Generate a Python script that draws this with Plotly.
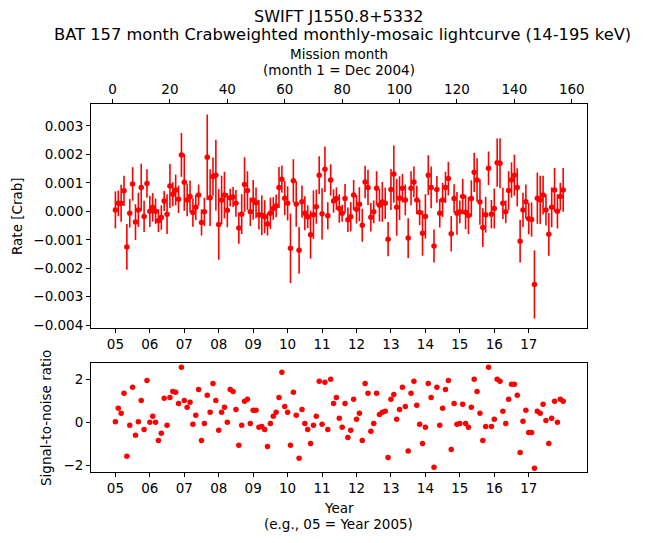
import plotly.graph_objects as go

months = list(range(1, 158))

rate = [
    0.00005, 0.00028, 0.00028, 0.00072, -0.00125, -0.00007, 0.00096, -0.00038, 0.00005, 0.00084,
    -0.00018, 0.00098, 0.0, 0.00014, 0.0, -0.00033, -0.00022, 0.00036, -0.0001, 0.00089,
    0.0006, 0.00075, 0.00042, 0.00198, 0.00102, 0.0004, 0.00052, -0.00004, 0.00014, 0.00057,
    -0.00039, -0.00002, 0.0019, 0.00048, 0.00122, 0.00127, -0.00046, 0.0004, 0.00057, 0.00004,
    0.00048, 0.0005, 0.00028, -0.00059, -0.0001, 0.00094, 0.00073, -0.00002, 0.0004, 0.0003,
    -0.00012, -0.00014, -0.00019, -0.00045, -0.00007, 0.0001, 0.00019, 0.00084, 0.00113, 0.00046,
    0.00028, -0.0013, 0.00107, 0.00026, -0.00137, 0.00034, -0.00007, -0.00019, -0.00082, -0.00012,
    0.00016, 0.00127, -0.00009, 0.00148, -0.00016, 0.0011, 0.00036, 0.00045, 0.0001, -0.00007,
    0.00045, -0.0003, -0.00019, 0.00057, 0.00007, 0.00025, -0.00049, 0.00103, 0.00084, -0.00021,
    -0.00002, 0.00081, 0.00021, 0.00033, 0.00028, -0.00098, 0.00077, 0.00131, 0.00014, 0.00046,
    0.00081, 0.0004, -0.00094, 0.00081, 0.00103, 0.0004, -0.00004, -0.00077, -0.00018, 0.00127,
    0.00084, -0.00122, 0.00077, -0.00007, 0.0004, 0.00084, 0.00115, -0.00079, 0.00045, -0.00007,
    -0.00002, 0.00052, -0.00003, -0.00015, 0.00045, 0.00137, 0.0011, 0.00033, -0.00057, -0.00012,
    0.00151, -0.0001, 0.0001, 0.00171, 0.00169, 0.00028, -0.00002, 0.00073, 0.0011, 0.00127,
    0.00084, -0.00105, 0.00005, 0.00034, -0.00026, -0.00029, -0.00257, 0.00046, 0.0004, 0.00057,
    0.00005, -0.00081, 0.00014, 0.00075, 0.0, 0.00052, 0.00075,
]

rate_err = [
    0.00065, 0.00045, 0.00065, 0.00053, 0.0008, 0.0005, 0.00059, 0.00063, 0.0006, 0.00083,
    0.00055, 0.0005, 0.00055, 0.0005, 0.00045, 0.0004, 0.00043, 0.00035, 0.0007, 0.00077,
    0.00042, 0.00054, 0.00048, 0.00077, 0.001, 0.00057, 0.00056, 0.0005, 0.00045, 0.00037,
    0.00046, 0.0005, 0.0015, 0.001, 0.00067, 0.00124, 0.00124, 0.00085, 0.00082, 0.0006,
    0.00031, 0.00035, 0.00047, 0.00055, 0.0007, 0.00096, 0.00068, 0.0005, 0.0007, 0.00054,
    0.00052, 0.0007, 0.00058, 0.0004, 0.00055, 0.0004, 0.0004, 0.00072, 0.00048, 0.0006,
    0.0006, 0.00122, 0.00076, 0.0008, 0.00082, 0.00057, 0.0006, 0.0004, 0.00084, 0.00085,
    0.0006, 0.00066, 0.0009, 0.0008, 0.00048, 0.00055, 0.00041, 0.00039, 0.0005, 0.0003,
    0.00051, 0.00043, 0.00051, 0.00053, 0.0005, 0.0006, 0.00058, 0.00057, 0.00062, 0.0005,
    0.0004, 0.0006, 0.00057, 0.0007, 0.00055, 0.0006, 0.00072, 0.001, 0.001, 0.00077,
    0.0005, 0.00054, 0.0007, 0.0006, 0.00054, 0.0005, 0.00045, 0.00079, 0.00078, 0.0007,
    0.00073, 0.00058, 0.00047, 0.0005, 0.0006, 0.00055, 0.00059, 0.00062, 0.0005, 0.00075,
    0.0004, 0.00062, 0.0006, 0.00065, 0.00064, 0.00069, 0.00076, 0.0008, 0.00068, 0.00063,
    0.00059, 0.0005, 0.0007, 0.00085, 0.00088, 0.00055, 0.0004, 0.00068, 0.00062, 0.00072,
    0.00067, 0.00075, 0.0006, 0.0006, 0.00055, 0.0006, 0.0012, 0.0009, 0.00085, 0.00068,
    0.00055, 0.00075, 0.0007, 0.00077, 0.0006, 0.00048, 0.00077,
]

snr = [
    0.03, 0.65, 0.42, 1.35, -1.58, -0.14, 1.63, -0.60, 0.03, 1.02,
    -0.33, 1.95, 0.0, 0.28, 0.0, -0.84, -0.51, 1.12, -0.14, 1.16,
    1.44, 1.40, 0.88, 2.56, 1.02, 0.70, 0.93, -0.09, 0.33, 1.53,
    -0.84, -0.05, 1.26, 0.47, 1.81, 1.02, -0.37, 0.47, 0.70, 0.0,
    1.53, 1.44, 0.60, -1.07, -0.14, 0.98, 1.07, -0.05, 0.56, 0.56,
    -0.23, -0.19, -0.33, -1.12, -0.05, 0.28, 0.47, 1.16, 2.33, 0.74,
    0.47, -1.07, 1.40, 0.33, -1.67, 0.60, -0.05, -0.33, -0.98, -0.14,
    0.28, 1.91, -0.09, 1.86, -0.33, 2.0, 0.88, 1.16, 0.19, -0.23,
    0.88, -0.70, -0.37, 1.07, 0.14, 0.42, -0.84, 1.81, 1.35, -0.42,
    -0.05, 1.35, 0.37, 0.47, 0.51, -1.63, 1.07, 1.30, 0.14, 0.60,
    1.63, 0.74, -1.33, 1.35, 1.91, 0.79, -0.09, -0.98, -0.23, 1.81,
    1.16, -2.09, 1.63, -0.14, 0.65, 1.53, 1.95, -1.26, 0.88, -0.09,
    -0.05, 0.84, -0.05, -0.23, 0.70, 2.0, 1.44, 0.42, -0.84, -0.19,
    2.56, -0.19, 0.14, 2.0, 1.91, 0.51, -0.05, 1.07, 1.77, 1.77,
    1.26, -1.40, 0.05, 0.56, -0.47, -0.47, -2.14, 0.51, 0.42, 0.84,
    0.09, -0.98, 0.19, 0.98, 0.0, 1.07, 0.98,
]

year_ticks = [1, 13, 25, 37, 49, 61, 73, 85, 97, 109, 121, 133, 145]
year_labels = ["05", "06", "07", "08", "09", "10", "11", "12", "13", "14", "15", "16", "17"]
month_ticks = [0, 20, 40, 60, 80, 100, 120, 140, 160]
rate_ticks = [-0.004, -0.003, -0.002, -0.001, 0.0, 0.001, 0.002, 0.003]
snr_ticks = [-2, 0, 2]

FONT = "DejaVu Sans"
W, H = 646, 543
X_RANGE = [-7.5, 165.3]

fig = go.Figure()
fig.add_trace(go.Scatter(
    x=months, y=rate, mode="markers", xaxis="x", yaxis="y",
    marker=dict(color="red", size=5.5, line=dict(width=0)),
    error_y=dict(type="data", array=rate_err, visible=True, color="red", thickness=1.6, width=0),
    showlegend=False, hoverinfo="skip",
))
fig.add_trace(go.Scatter(
    x=[X_RANGE[0]], y=[0], mode="markers", xaxis="x3", yaxis="y",
    marker=dict(opacity=0), showlegend=False, hoverinfo="skip",
))
fig.add_trace(go.Scatter(
    x=months, y=snr, mode="markers", xaxis="x2", yaxis="y2",
    marker=dict(color="red", size=5.5, line=dict(width=0)),
    showlegend=False, hoverinfo="skip",
))

ax_common = dict(
    showline=True, linecolor="black", linewidth=1, mirror=True,
    ticks="outside", ticklen=4, tickwidth=1, tickcolor="black",
    showgrid=False, zeroline=False, automargin=False,
    tickfont=dict(family=FONT, size=13.5, color="black"),
)

xdom = [91 / W, 587 / W]
fig.update_layout(
    width=W, height=H,
    margin=dict(l=0, r=0, t=0, b=0, pad=0, autoexpand=False),
    paper_bgcolor="white", plot_bgcolor="white",
    xaxis=dict(domain=xdom, anchor="y", range=X_RANGE, tickmode="array",
               tickvals=year_ticks, ticktext=year_labels, **ax_common),
    xaxis3=dict(overlaying="x", side="top", anchor="y", range=X_RANGE, tickmode="array",
                tickvals=month_ticks, **{k: v for k, v in ax_common.items() if k != "mirror"}),
    yaxis=dict(domain=[1 - 328 / H, 1 - 104 / H], anchor="x", range=[-0.0041, 0.00377],
               tickmode="array", tickvals=rate_ticks, tickformat=".3f", **ax_common),
    xaxis2=dict(domain=xdom, anchor="y2", range=X_RANGE, tickmode="array",
                tickvals=year_ticks, ticktext=year_labels, **ax_common),
    yaxis2=dict(domain=[1 - 472 / H, 1 - 363 / H], anchor="x2", range=[-2.31, 2.76],
                tickmode="array", tickvals=snr_ticks, **ax_common),
)

def txt(text, x, y, size, angle=0):
    fig.add_annotation(text=text, x=x / W, y=1 - y / H, xref="paper", yref="paper",
                       showarrow=False, textangle=angle, xanchor="center", yanchor="middle",
                       font=dict(family=FONT, size=size, color="black"))

txt("SWIFT J1550.8+5332", 339, 16, 16)
txt("BAT 157 month Crabweighted monthly-mosaic lightcurve (14-195 keV)", 342, 34.5, 16.3)
txt("Mission month", 339, 54, 13.5)
txt("(month 1 = Dec 2004)", 339, 70, 13.5)
txt("Rate [Crab]", 17, 216, 13.5, -90)
txt("Signal-to-noise ratio", 46, 418, 13.5, -90)
txt("Year", 339, 508, 13.5)
txt("(e.g., 05 = Year 2005)", 339, 524, 13.5)

fig.write_html("out.html", config={"displayModeBar": False, "staticPlot": True},
               post_script="document.body.style.margin='0';document.body.style.overflow='hidden';")
